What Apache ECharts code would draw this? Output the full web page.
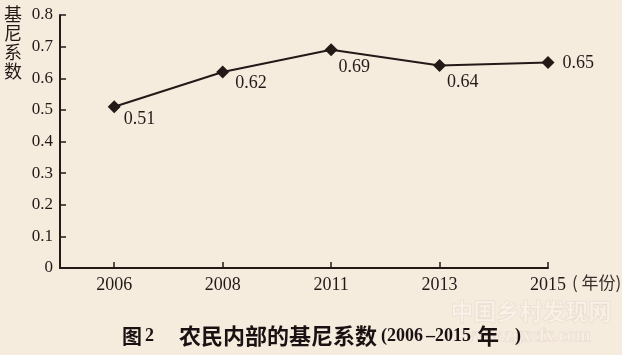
<!DOCTYPE html>
<html>
<head>
<meta charset="utf-8">
<script src="https://cdn.jsdelivr.net/npm/echarts@6/dist/echarts.min.js"></script>
<style>
  html, body { margin: 0; padding: 0; background: #f6ecde; }
  #main { width: 622px; height: 355px; }
</style>
</head>
<body>
<div id="main"></div>
<script>
// 年份与基尼系数
var years = ['2006', '2008', '2011', '2013', '2015'];
var gini = [0.51, 0.62, 0.69, 0.64, 0.65];
var yTicks = [0, 0.1, 0.2, 0.3, 0.4, 0.5, 0.6, 0.7, 0.8];

var ink = '#231a18';
var serif = '"Liberation Serif", "Noto Sans CJK SC", serif';
var cjk = '"Noto Sans CJK SC"';

// 每个点的标签位置（右下方，最后一个在右侧）
var labelOffsets = [[3, 13], [6, 11], [1, 17], [1, 17], [8, 1]];

var points = gini.map(function (v, i) {
    return {
        value: [i, v],
        label: { offset: labelOffsets[i] }
    };
});

// 图题，分段放置
function titlePart(x, text, font) {
    return {
        type: 'text',
        x: x,
        y: 336,
        style: {
            text: text,
            font: font,
            fill: '#1a1212',
            verticalAlign: 'middle'
        }
    };
}

var myChart = echarts.init(document.getElementById('main'));
var option = {
    backgroundColor: '#f6ecde',
    animation: false,
    grid: {
        left: 60,
        right: 74,
        top: 15,
        bottom: 87
    },
    xAxis: {
        type: 'value',
        min: -0.5,
        max: years.length - 1,
        axisLine: { show: true, onZero: false, lineStyle: { color: ink, width: 2 } },
        axisTick: {
            show: true,
            inside: true,
            length: 6,
            customValues: years.map(function (y, i) { return i; }),
            lineStyle: { color: ink, width: 1.5 }
        },
        axisLabel: {
            customValues: years.map(function (y, i) { return i; }),
            formatter: function (v) { return years[Math.round(v)]; },
            color: ink,
            fontFamily: serif,
            fontSize: 18,
            margin: 8
        },
        splitLine: { show: false }
    },
    yAxis: {
        type: 'value',
        min: 0,
        max: 0.8,
        interval: 0.1,
        axisLine: { show: true, onZero: false, lineStyle: { color: ink, width: 2 } },
        axisTick: {
            show: true,
            inside: true,
            length: 6,
            lineStyle: { color: ink, width: 1.5 }
        },
        axisLabel: {
            color: ink,
            fontFamily: serif,
            fontSize: 17,
            margin: 7,
            formatter: function (v) {
                var t = yTicks.find(function (k) { return Math.abs(k - v) < 1e-6; });
                return t === 0 ? '0' : String(t);
            }
        },
        splitLine: { show: false }
    },
    series: [{
        type: 'line',
        data: points,
        symbol: 'diamond',
        symbolSize: 13,
        lineStyle: { color: ink, width: 2 },
        itemStyle: { color: ink },
        label: {
            show: true,
            position: 'right',
            distance: 0,
            color: ink,
            fontFamily: serif,
            fontSize: 18,
            formatter: function (p) { return p.value[1].toFixed(2); }
        }
    }],
    graphic: [
        {
            type: 'text',
            left: 4,
            top: 5,
            style: {
                text: '基\n尼\n系\n数',
                font: '18px ' + cjk,
                lineHeight: 19,
                fill: ink
            }
        },
        {
            type: 'text',
            left: 572,
            top: 274,
            style: {
                text: '( 年份)',
                font: '17px ' + cjk,
                fill: '#3a302c'
            }
        },
        {
            type: 'text',
            left: 450,
            top: 299,
            style: {
                text: '中国乡村发现网',
                font: 'bold 23px ' + cjk,
                fill: 'rgba(255,250,245,0.45)',
                stroke: 'rgba(205,175,165,0.3)',
                lineWidth: 1
            }
        },
        {
            type: 'text',
            left: 462,
            top: 327,
            style: {
                text: 'www.zgxcfx.com',
                font: 'bold 18px "Liberation Serif"',
                fill: 'rgba(255,250,245,0.45)',
                stroke: 'rgba(205,175,165,0.3)',
                lineWidth: 1
            }
        },
        titlePart(122, '图', 'bold 20px ' + cjk),
        titlePart(145, '2', 'bold 18px "Liberation Serif"'),
        titlePart(179, '农民内部的基尼系数', 'bold 22px ' + cjk),
        titlePart(381, '(2006', 'bold 18px "Liberation Serif"'),
        titlePart(426, '–2015', 'bold 18px "Liberation Serif"'),
        titlePart(477, '年', 'bold 22px ' + cjk),
        titlePart(515, ')', 'bold 18px "Liberation Serif"')
    ]
};
myChart.setOption(option);
</script>
</body>
</html>
